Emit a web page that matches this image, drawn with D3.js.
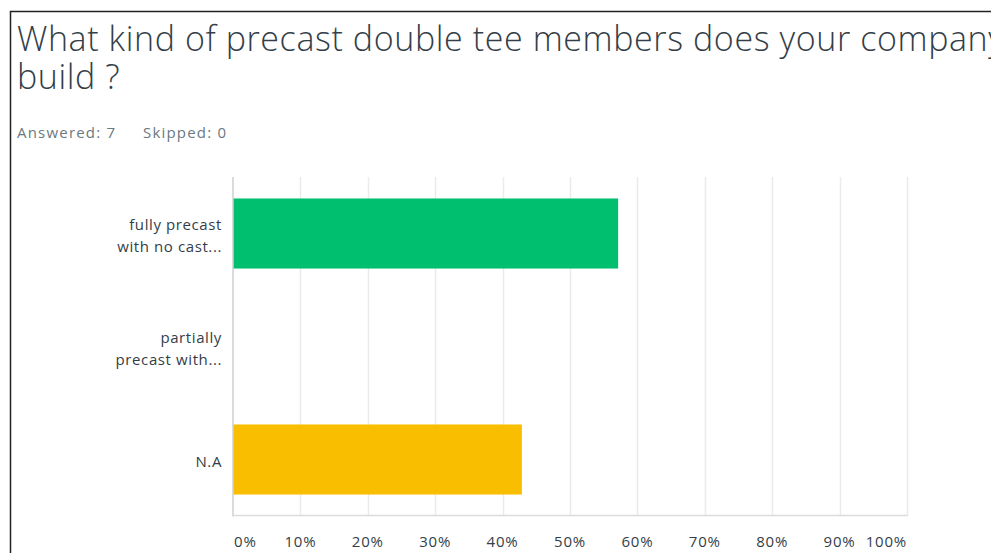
<!DOCTYPE html>
<html><head><meta charset="utf-8">
<script src="https://cdn.jsdelivr.net/npm/d3@7"></script>
<style>html,body{margin:0;padding:0;overflow:hidden;background:#fff;}</style>
</head><body>
<script>
const categories = [["fully precast","with no cast..."],["partially","precast with..."],["N.A"]];
const values = [57.14, 0, 42.86];
const barColors = ["#00bf6f", "#00bf6f", "#f9be00"];
const ticks = [0,10,20,30,40,50,60,70,80,90,100];
const titleLines = ["What kind of precast double tee members does your company", "build ?"];
const meta = ["Answered: 7", "Skipped: 0"];

const W = 991, H = 553;
const svg = d3.select("body").append("svg").attr("width", W).attr("height", H)
  .style("font-family", "'Open Sans', sans-serif");

svg.append("rect").attr("x", 10.5).attr("y", 11.5).attr("width", 1100).attr("height", 700)
  .attr("fill", "none").attr("stroke", "#222").attr("stroke-width", 1.5);

const title = svg.append("text").attr("font-size", 34).attr("fill", "#333e48")
  .attr("font-weight", 300).attr("letter-spacing", 0.6);
title.selectAll("tspan").data(titleLines).join("tspan")
  .attr("x", 17).attr("y", (d,i)=>51 + i*38).text(d=>d);

svg.selectAll("text.meta").data(meta).join("text").attr("class","meta")
  .attr("x", (d,i)=> i===0 ? 17 : 143).attr("y", 138).attr("font-size", 15)
  .attr("letter-spacing", 1.2).attr("fill", "#6b787f")
  .text(d=>d);

const x = d3.scaleLinear().domain([0,100]).range([233, 907]);
const y = d3.scaleBand().domain(d3.range(categories.length)).range([177, 516]).paddingInner(0.38).paddingOuter(0.19);

// grid
svg.selectAll("line.grid").data(ticks.slice(1)).join("line").attr("class","grid")
  .attr("x1", d=>Math.round(x(d))+0.5).attr("x2", d=>Math.round(x(d))+0.5)
  .attr("y1", 177).attr("y2", 516).attr("stroke", "#ebebeb").attr("stroke-width", 1.5);

// bars
svg.selectAll("rect.bar").data(values).join("rect").attr("class","bar")
  .attr("x", x(0)).attr("y", (d,i)=>y(i)).attr("width", d=>x(d)-x(0)).attr("height", y.bandwidth())
  .attr("fill", (d,i)=>barColors[i]);

// axes lines
svg.append("line").attr("x1", 233).attr("x2", 233).attr("y1", 177).attr("y2", 516.5)
  .attr("stroke", "#cfcfcf").attr("stroke-width", 1.5);
svg.append("line").attr("x1", 233).attr("x2", 907.5).attr("y1", 515.5).attr("y2", 515.5)
  .attr("stroke", "#dcdcdc").attr("stroke-width", 1.5);

// y labels
const yl = svg.selectAll("text.ylab").data(categories).join("text").attr("class","ylab")
  .attr("font-size", 15).attr("letter-spacing", 0.6).attr("fill", "#333e48").attr("text-anchor", "end");
yl.each(function(lines, i){
  const cy = y(i) + y.bandwidth()/2;
  const n = lines.length;
  d3.select(this).selectAll("tspan").data(lines).join("tspan")
    .attr("x", 222)
    .attr("y", (d,j)=> cy + 7 + (j - (n-1)/2)*22)
    .text(d=>d);
});

// x tick labels
svg.selectAll("text.tick").data(ticks).join("text").attr("class","tick")
  .attr("x", d=> d===0 ? x(d)+1 : x(d))
  .attr("text-anchor", d=> d===0 ? "start" : (d===100 ? "end" : "middle"))
  .attr("y", 547).attr("font-size", 15).attr("letter-spacing", 0.8).attr("fill", "#333e48")
  .text(d=>d+"%");
</script>
</body></html>
